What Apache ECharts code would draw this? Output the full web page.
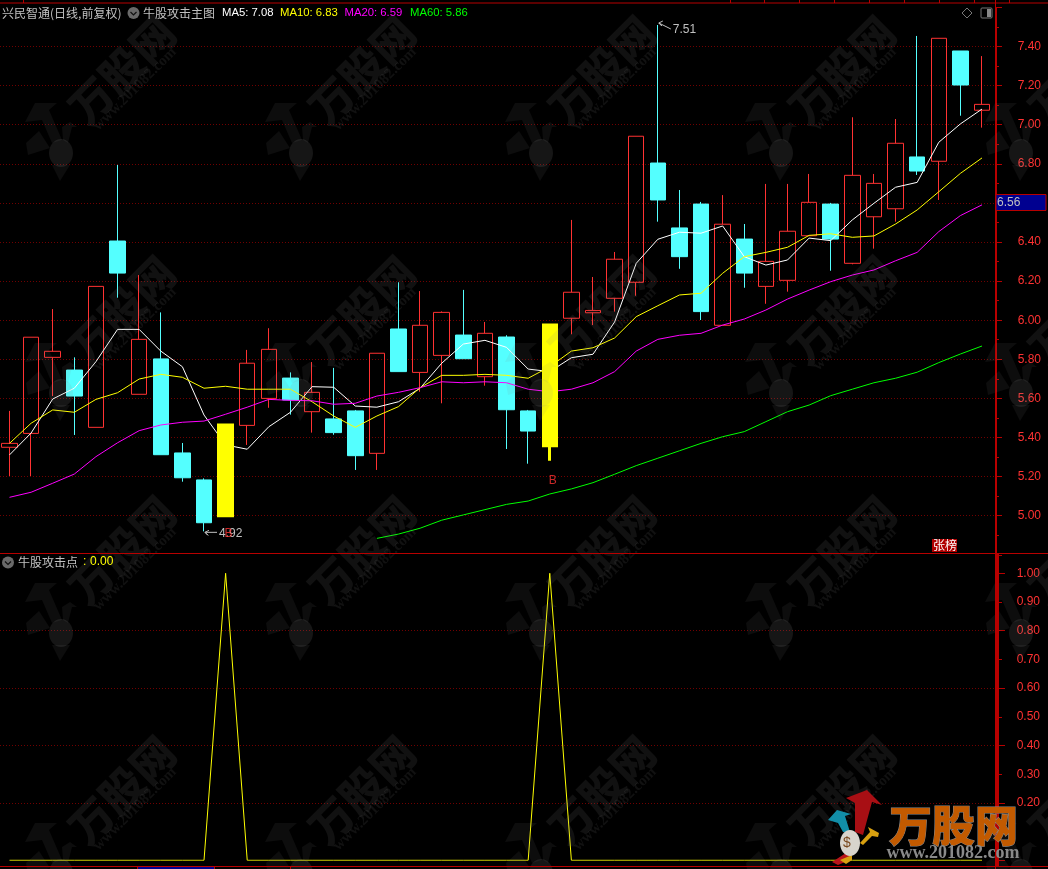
<!DOCTYPE html>
<html><head><meta charset="utf-8">
<style>html,body{margin:0;padding:0;background:#000;overflow:hidden}#c{width:1048px;height:869px}</style>
<script src="https://cdn.jsdelivr.net/npm/echarts@6/dist/echarts.min.js"></script>
</head><body><div id="c"></div>
<script>
const opens  = [5.350,5.421,5.810,5.745,5.452,6.405,5.621,5.802,5.321,5.183,5.000,5.462,5.600,5.704,5.532,5.495,5.536,5.319,5.955,5.733,5.820,5.924,5.711,5.914,5.536,5.358,6.010,6.038,6.112,6.194,6.804,6.472,6.594,5.974,6.415,6.173,6.204,6.432,6.594,6.291,6.529,6.570,6.835,6.813,7.377,7.074];
const closes = [5.370,5.913,5.841,5.612,6.173,6.241,5.902,5.312,5.194,4.964,5.464,5.780,5.851,5.592,5.631,5.425,5.307,5.831,5.737,5.974,6.040,5.803,5.933,5.542,5.433,5.975,6.143,6.050,6.312,6.941,6.615,6.325,6.044,6.491,6.241,6.301,6.455,6.603,6.415,6.741,6.700,6.905,6.763,7.442,7.203,7.104];
const lows   = [5.203,5.203,5.612,5.413,5.452,6.115,5.621,5.312,5.174,4.920,5.000,5.362,5.552,5.517,5.425,5.414,5.234,5.234,5.737,5.634,5.575,5.803,5.665,5.341,5.266,5.281,5.928,5.975,6.044,6.125,6.504,6.263,6.001,5.974,6.166,6.084,6.146,6.432,6.253,6.286,6.366,6.504,6.743,6.615,7.046,6.985];
const highs  = [5.536,5.913,6.057,5.810,6.173,6.794,6.231,6.040,5.372,5.191,5.464,5.848,5.959,5.733,5.786,5.756,5.541,5.831,6.194,6.149,6.045,6.155,5.991,5.923,5.541,5.975,6.513,6.221,6.349,6.941,7.510,6.666,6.605,6.640,6.492,6.697,6.697,6.748,6.600,7.038,6.748,7.029,7.454,7.442,7.377,7.351];
const ma5  = [5.311,5.423,5.597,5.652,5.788,5.953,5.953,5.842,5.762,5.515,5.362,5.340,5.455,5.529,5.660,5.657,5.561,5.555,5.583,5.652,5.780,5.878,5.897,5.861,5.750,5.737,5.808,5.826,5.991,6.291,6.414,6.450,6.445,6.482,6.325,6.282,6.308,6.420,6.407,6.513,6.598,6.680,6.705,6.910,7.004,7.08];
const ma10 = [5.370,5.473,5.541,5.529,5.595,5.629,5.699,5.723,5.708,5.652,5.662,5.647,5.647,5.647,5.583,5.510,5.452,5.510,5.558,5.655,5.718,5.718,5.723,5.718,5.703,5.762,5.842,5.859,5.909,6.018,6.074,6.129,6.138,6.240,6.325,6.347,6.373,6.434,6.442,6.424,6.431,6.492,6.564,6.657,6.751,6.83];
const ma20 = [5.094,5.120,5.166,5.213,5.302,5.373,5.435,5.464,5.478,5.484,5.519,5.555,5.595,5.590,5.588,5.570,5.575,5.612,5.631,5.655,5.685,5.680,5.685,5.680,5.647,5.634,5.647,5.680,5.737,5.842,5.902,5.923,5.933,5.975,6.006,6.052,6.108,6.154,6.197,6.231,6.257,6.304,6.347,6.453,6.535,6.59];
const ma60 = [null,null,null,null,null,null,null,null,null,null,null,null,null,null,null,null,null,4.884,4.906,4.936,4.977,5.004,5.031,5.058,5.075,5.111,5.137,5.169,5.212,5.256,5.294,5.332,5.370,5.404,5.430,5.481,5.532,5.566,5.614,5.647,5.680,5.703,5.734,5.783,5.827,5.868];
const attackPoint = [0,0,0,0,0,0,0,0,0,0,1,0,0,0,0,0,0,0,0,0,0,0,0,0,0,1,0,0,0,0,0,0,0,0,0,0,0,0,0,0,0,0,0,0,0,0];
const days = opens.map((_, i) => String(i + 1));
const buyMarks = [[10, 4.906], [25, 5.179]];
const extremes = [[9, 4.92, '4.92', 2, 2], [30, 7.51, '7.51', 5, 6]];
const lastPrice = '6.56';
const priceMin = 4.8, priceMax = 7.6, priceStep = 0.2;

const RED='#ff3232', CYAN='#54ffff', YEL='#ffff00', FRAME='#b80000', GRIDC='#700000', TXT='#c0c0c0';
const FONT='"Liberation Sans",Arial,sans-serif', CJK='"Noto Sans CJK SC",sans-serif';
const isAttack = i => attackPoint[i] === 1;
const normal = days.map((_, i) => isAttack(i) ? ['-','-','-','-'] : [opens[i], closes[i], lows[i], highs[i]]);
const attack = days.map((_, i) => !isAttack(i) ? ['-','-','-','-'] : [opens[i], closes[i], lows[i], highs[i]]);

/* ---------- decoration: frame, header, watermark, logo ---------- */
const g = [];
const rect = (x,y,w,h,fill,z) => g.push({type:'rect',silent:true,z:z||50,shape:{x,y,width:w,height:h},style:{fill}});
const txt = (x,y,text,fill,size,font,z,extra) => g.push({type:'text',silent:true,z:z||60,x,y,style:Object.assign({text,fill,font:`${size}px ${font||FONT}`,align:'left',verticalAlign:'middle'},extra||{})});
// frame
rect(0,2.5,1048,1,FRAME); rect(0,553,1048,1,FRAME); rect(0,866,1048,1,FRAME);
rect(995,0,1,869,FRAME); rect(996,553,3,314,FRAME);
[23,730,764,799,834,869,904,939,974,1009].forEach(x=>rect(x,0,1,3,FRAME));
[137,214,290].forEach(x=>rect(x,867,1,2,FRAME));
rect(138,867,76,2,'#000090');
// header
txt(2,13,'兴民智通(日线,前复权)',TXT,12,CJK);
const badge=(x,y)=>{g.push({type:'circle',silent:true,z:60,shape:{cx:x,cy:y,r:6},style:{fill:'#6a6a6a'}});
  g.push({type:'polyline',silent:true,z:61,shape:{points:[[x-3,y-1],[x,y+2],[x+3,y-1]]},style:{stroke:'#111',fill:null,lineWidth:1.2}});};
badge(133.5,13);
txt(143,13,'牛股攻击主图',TXT,12,CJK);
txt(222,13,'MA5: 7.08','#ffffff',11.3);
txt(280,13,'MA10: 6.83',YEL,11.3);
txt(344.5,13,'MA20: 6.59','#ff00ff',11.3);
txt(410,13,'MA60: 5.86','#00ff00',11.3);
badge(8,562.5);
txt(18,562,'牛股攻击点',TXT,12,CJK);
txt(83,562,':',YEL,12); txt(90,562,'0.00',YEL,12);
// window icons
g.push({type:'polygon',silent:true,z:60,shape:{points:[[967,8],[972,13],[967,18],[962,13]]},style:{stroke:'#777',fill:null,lineWidth:1}});
g.push({type:'rect',silent:true,z:60,shape:{x:981,y:8,width:11,height:10,r:1},style:{stroke:'#777',fill:'#000',lineWidth:1}});
rect(987,9,4,8,'#888',61);
// last price tag
g.push({type:'rect',silent:true,z:60,shape:{x:996,y:194.5,width:50,height:16},style:{fill:'#000090',stroke:FRAME,lineWidth:1}});
txt(997,203,lastPrice,TXT,12);
// rank tag
rect(932,539,25,13,'#b00000',60);
txt(933,545.5,'张榜','#ffffff',12,CJK,61);
// watermark tiles
const WM='rgba(128,128,128,0.13)', WM2='rgba(128,128,128,0.10)';
const tileX=[0,240,480,720,960], tileY=[0,240,480,720];
const mascot=[
 [[25,122],[35,103],[57,103],[49,110],[62,140],[52,143],[42,120]],
 [[26,143],[39,131],[50,148],[28,155]],
 [[62,127],[70,122],[77,127],[72,127],[68,143],[63,140]],
 [[52,165],[70,165],[60,181]]];
tileY.forEach(ty=>tileX.forEach(tx=>{
  g.push({type:'text',silent:true,z:40,x:tx+122,y:ty+70,rotation:Math.PI/4,style:{text:'万股网',fill:WM,font:`900 43px ${CJK}`,align:'center',verticalAlign:'middle'}});
  g.push({type:'text',silent:true,z:40,x:tx+135,y:ty+89,rotation:Math.PI/4,style:{text:'www.201082.com',fill:WM,font:'bold 15px "Liberation Serif",serif',align:'center',verticalAlign:'middle'}});
  mascot.forEach(p=>g.push({type:'polygon',silent:true,z:40,x:tx,y:ty,shape:{points:p},style:{fill:WM2}}));
  g.push({type:'ellipse',silent:true,z:40,x:tx,y:ty,shape:{cx:61,cy:153,rx:12,ry:14},style:{fill:'rgba(150,150,150,0.15)'}});
}));
// logo
const poly=(pts,fill)=>g.push({type:'polygon',silent:true,z:70,shape:{points:pts},style:{fill}});
poly([[867,790],[882,805],[872,802],[863,835],[855,832],[855,803],[846,798]],'#a80f14');
poly([[828,820],[837,810],[851,814],[845,816],[850,832],[843,832],[838,823]],'#128ea8');
poly([[879,833],[868,827],[870,832],[860,843],[863,845],[872,836],[878,837]],'#d8a010');
g.push({type:'ellipse',silent:true,z:71,shape:{cx:850,cy:843,rx:10,ry:13},style:{fill:'#d8d4cc'}});
poly([[832,862],[846,853],[852,856],[845,862],[838,865]],'#b8141a');
poly([[840,860],[852,855],[852,860],[846,864]],'#d8a010');
txt(847,843,'$','#7a4a20',14,FONT,72,{align:'center'});
g.push({type:'text',silent:true,z:70,x:953.5,y:826,style:{text:'万股网',fill:'#c25a00',stroke:'#8c8c8c',lineWidth:1,font:`900 43px ${CJK}`,align:'center',verticalAlign:'middle'}});
g.push({type:'text',silent:true,z:70,x:953,y:853,style:{text:'www.201082.com',fill:'#8a8a8a',font:'bold 18px "Liberation Serif",serif',align:'center',verticalAlign:'middle'}});

/* ---------- chart ---------- */
const hideX = gi => ({gridIndex:gi,type:'category',data:days,show:false,boundaryGap:false});
const catX  = gi => ({gridIndex:gi,type:'category',data:days,show:false,boundaryGap:false});
const maLine=(name,data,color)=>({name,type:'line',xAxisIndex:1,yAxisIndex:1,data,symbol:'none',smooth:false,z:3,
  lineStyle:{color,width:1},connectNulls:false,animation:false});
const axisLine={show:true,onZero:false,lineStyle:{color:FRAME,width:1}};
const option={
  backgroundColor:'#000',animation:false,
  grid:[
    {left:0,width:996,top:7.4,height:547.4},
    {left:9.5,width:972.5,top:7.4,height:547.4},
    {left:0,width:996,top:573.3,height:287},
    {left:9.5,width:972.5,top:573.3,height:287}
  ],
  xAxis:[hideX(0),catX(1),hideX(2),catX(3)],
  yAxis:[
    {gridIndex:0,type:'value',position:'right',min:priceMin,max:priceMax,interval:priceStep,
     axisLine,axisTick:{show:true,inside:false,length:6,lineStyle:{color:FRAME,width:1}},
     minorTick:{show:true,splitNumber:2,length:3,lineStyle:{color:FRAME,width:1}},
     axisLabel:{color:RED,fontSize:12,fontFamily:FONT,margin:45,align:'right',showMinLabel:false,showMaxLabel:false,formatter:v=>v.toFixed(2)},
     splitLine:{show:true,showMinLine:false,showMaxLine:false,lineStyle:{color:GRIDC,type:[1,2],width:1}}},
    {gridIndex:1,type:'value',min:priceMin,max:priceMax,show:false,splitLine:{show:false}},
    {gridIndex:2,type:'value',position:'right',min:0,max:1,interval:0.1,
     axisLine,axisTick:{show:true,inside:false,length:6,lineStyle:{color:FRAME,width:1}},
     axisLabel:{color:RED,fontSize:12,fontFamily:FONT,margin:44,align:'right',formatter:v=>v<0.15?'':v.toFixed(2)},
     splitLine:{show:false}},
    {gridIndex:2,type:'value',position:'right',min:0,max:1,interval:0.2,
     axisLine,axisTick:{show:true,inside:false,length:9,lineStyle:{color:FRAME,width:1}},axisLabel:{show:false},
     splitLine:{show:true,showMinLine:false,showMaxLine:false,lineStyle:{color:GRIDC,type:[1,2],width:1}}},
    {gridIndex:3,type:'value',min:0,max:1,show:false,splitLine:{show:false}}
  ],
  series:[
    {name:'K',type:'candlestick',xAxisIndex:1,yAxisIndex:1,data:normal,barWidth:16,z:2,clip:false,
     itemStyle:{color:'rgba(0,0,0,0)',color0:CYAN,borderColor:RED,borderColor0:CYAN,borderWidth:1}},
    maLine('MA5',ma5,'#ffffff'),
    maLine('MA10',ma10,YEL),
    maLine('MA20',ma20,'#ff00ff'),
    maLine('MA60',ma60,'#00ff00'),
    {name:'牛股攻击',type:'candlestick',xAxisIndex:1,yAxisIndex:1,data:attack,barWidth:14,z:4,clip:false,
     itemStyle:{color:YEL,color0:YEL,borderColor:YEL,borderColor0:YEL,borderWidth:3}},
    {name:'B',type:'scatter',xAxisIndex:1,yAxisIndex:1,data:buyMarks,symbolSize:1,z:6,
     itemStyle:{color:'rgba(0,0,0,0)'},
     label:{show:true,position:'inside',offset:[3,0],formatter:'B',color:RED,fontSize:12,fontFamily:FONT}},
    {name:'极值',type:'custom',xAxisIndex:1,yAxisIndex:1,data:extremes,z:5,silent:true,clip:false,
     encode:{x:0,y:1},
     renderItem(p,api){
       const c=api.coord([api.value(0),api.value(1)]);
       const i=p.dataIndex,e=extremes[i],dy=e[4],x=c[0]+1,y=c[1]-(i?2:0)+(i?0:1);
       return {type:'group',children:[
         {type:'polyline',shape:{points:[[x+4,y-2],[x,y],[x+3,y+3],[x,y],[x+12,y+dy-(i?0:2)]]},style:{stroke:TXT,fill:null,lineWidth:1}},
         {type:'text',style:{text:e[2],x:x+14,y:c[1]+e[3],fill:TXT,font:`12px ${FONT}`,align:'left',verticalAlign:'middle'}}
       ]};
     }},
    {name:'牛股攻击点',type:'line',xAxisIndex:3,yAxisIndex:4,data:attackPoint,symbol:'none',z:3,
     lineStyle:{color:YEL,width:1}}
  ],
  graphic:{elements:g}
};
const chart=echarts.init(document.getElementById('c'),null,{renderer:'canvas',width:1048,height:869});
chart.setOption(option);
</script></body></html>
